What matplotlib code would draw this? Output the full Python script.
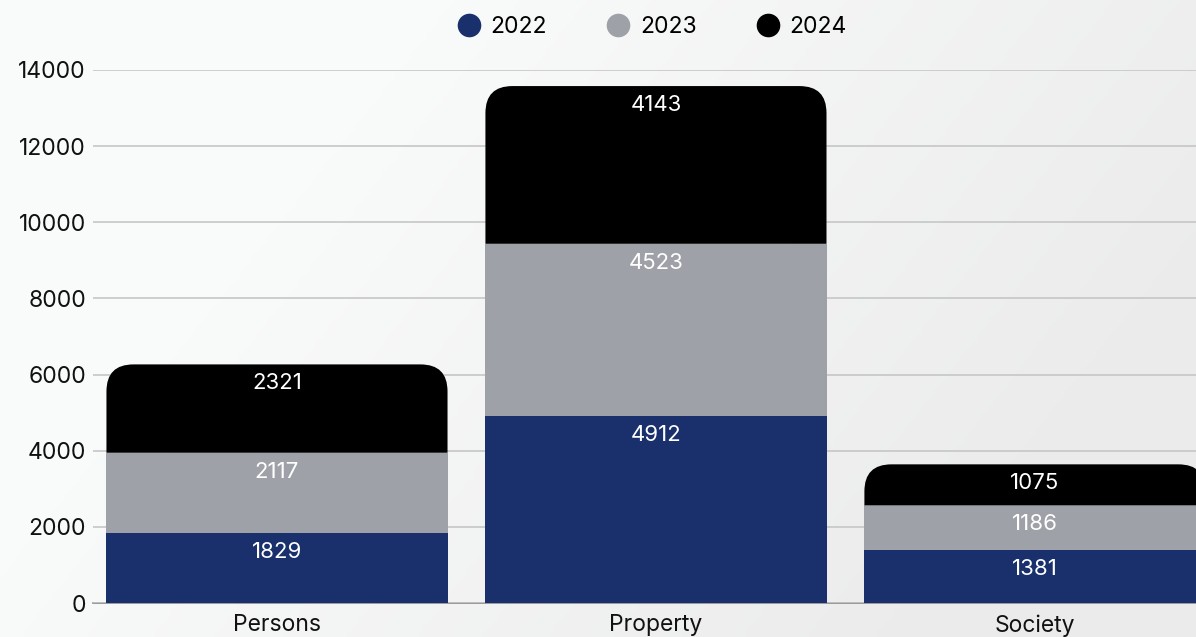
import numpy as np
import matplotlib
matplotlib.use("Agg")
import matplotlib.pyplot as plt
from matplotlib.path import Path
from matplotlib.patches import PathPatch
from matplotlib.colors import LinearSegmentedColormap

plt.rcParams["font.family"] = ["Inter", "DejaVu Sans"]

categories = ["Persons", "Property", "Society"]
years = ["2022", "2023", "2024"]
v2022 = [1829, 4912, 1381]
v2023 = [2117, 4523, 1186]
v2024 = [2321, 4143, 1075]
colors = ["#19306c", "#9fa1a8", "#000000"]
yticks = [0, 2000, 4000, 6000, 8000, 10000, 12000, 14000]


def rounded_top(ax, rect, r_px=27):
    # swap a plain bar for one with rounded top corners
    x0, y0 = rect.get_x(), rect.get_y()
    w, h = rect.get_width(), rect.get_height()
    fig = ax.figure
    fig.canvas.draw()
    inv = ax.transData.inverted()
    p0 = inv.transform((0, 0))
    p1 = inv.transform((r_px, r_px))
    rx, ry = p1[0] - p0[0], p1[1] - p0[1]
    x1, y1 = x0 + w, y0 + h
    verts = [
        (x0, y0), (x1, y0), (x1, y1 - ry),
        (x1, y1), (x1 - rx, y1),
        (x0 + rx, y1),
        (x0, y1), (x0, y1 - ry),
        (x0, y0),
    ]
    codes = [Path.MOVETO, Path.LINETO, Path.LINETO,
             Path.CURVE3, Path.CURVE3,
             Path.LINETO,
             Path.CURVE3, Path.CURVE3,
             Path.CLOSEPOLY]
    patch = PathPatch(Path(verts, codes), facecolor=rect.get_facecolor(),
                      edgecolor="none", zorder=rect.get_zorder())
    rect.remove()
    ax.add_patch(patch)


fig = plt.figure(figsize=(11.96, 6.37), dpi=100)

# soft background gradient
bg = fig.add_axes([0, 0, 1, 1], zorder=-10)
bg_cmap = LinearSegmentedColormap.from_list("bg", ["#f9fafa", "#ebebeb"])
xx, yy = np.meshgrid(np.linspace(0, 1, 300), np.linspace(0, 1, 160))
grad = np.clip((xx * 1.2 + yy * 0.5) - 0.45, 0, 1)
bg.imshow(grad, cmap=bg_cmap, vmin=0, vmax=1, aspect="auto",
          extent=[0, 1, 0, 1], origin="upper")
bg.set_axis_off()

ax = fig.add_axes([93 / 1196, 34 / 637, 1 - 93 / 1196, 533 / 637])
ax.patch.set_alpha(0)

x = np.arange(len(categories))
width = 0.9
bottom = np.zeros(len(categories))
series = [v2022, v2023, v2024]
containers = []
for vals, col, yr in zip(series, colors, years):
    bars = ax.bar(x, vals, width, bottom=bottom, color=col, label=yr, zorder=3)
    containers.append((bars, bottom.copy() + np.array(vals), vals))
    bottom += np.array(vals)

for (bars, tops, vals) in containers:
    for xi, top, v in zip(x, tops, vals):
        ax.annotate(str(v), (xi, top), xytext=(0, -13.5), textcoords="offset points",
                    ha="center", va="center", color="white", fontsize=16, zorder=5)

ax.set_xlim(-0.4855, 2.425)
ax.set_ylim(0, 14000)
ax.set_yticks(yticks)
ax.set_xticks(x)
ax.set_xticklabels(categories)
ax.tick_params(axis="y", length=0, pad=5, labelsize=16.5, labelcolor="#111111")
ax.tick_params(axis="x", length=0, pad=8, labelsize=16.5, labelcolor="#111111")
ax.grid(axis="y", color="#c6c6c6", linewidth=1.2, zorder=0)
for s in ["top", "right", "left"]:
    ax.spines[s].set_visible(False)
ax.spines["bottom"].set_color("#8a8a8a")
ax.spines["bottom"].set_linewidth(1.2)
ax.spines["bottom"].set_zorder(1)

for rect in list(containers[-1][0]):
    rounded_top(ax, rect)

handles = [plt.Line2D([], [], marker="o", linestyle="none", markersize=17,
                      markerfacecolor=c, markeredgewidth=0) for c in colors]
fig.legend(handles, years, loc="center", bbox_to_anchor=(652 / 1196, 1 - 27 / 637),
           ncol=3, frameon=False, fontsize=16.5, handletextpad=0.45, columnspacing=2.6,
           handlelength=1.0)

fig.savefig("out.png", dpi=100)
